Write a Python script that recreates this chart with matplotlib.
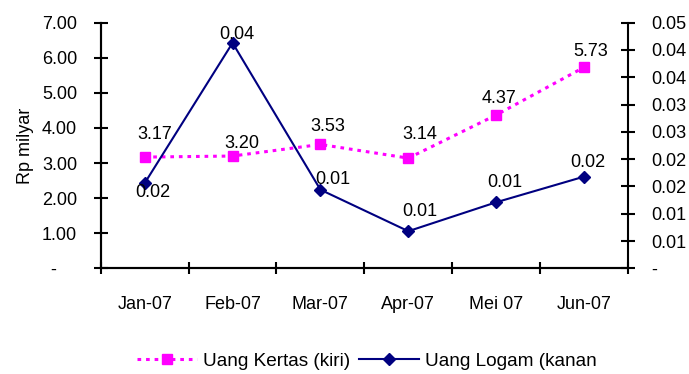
import numpy as np
import matplotlib.pyplot as plt
from matplotlib.ticker import FixedLocator, FixedFormatter

plt.rcParams['font.family'] = ['Liberation Sans', 'DejaVu Sans']

# Data uang kertas & logam, Jan-Jun 2007
bulan = ['Jan-07', 'Feb-07', 'Mar-07', 'Apr-07', 'Mei 07', 'Jun-07']
uang_kertas = [3.17, 3.20, 3.53, 3.14, 4.37, 5.73]       # Rp milyar (kiri)
uang_logam = [0.0156, 0.0413, 0.0144, 0.0068, 0.0121, 0.0168]  # kanan

kiri_ticks = [0, 1, 2, 3, 4, 5, 6, 7]
kiri_labels = ['-    ', '1.00', '2.00', '3.00', '4.00', '5.00', '6.00', '7.00']
kanan_ticks = [0, 0.005, 0.01, 0.015, 0.02, 0.025, 0.03, 0.035, 0.04, 0.045]
kanan_labels = ['-', '0.01', '0.01', '0.02', '0.02', '0.03', '0.03', '0.04', '0.04', '0.05']

# geser label data (dalam point)
off_kertas = [(7, 16), (7, 9), (5, 13), (8, 17), (2, 12), (5, 11)]
off_logam = [(6, -7), (3, 6), (9, 7), (8, 14), (6, 14), (3, 10)]

fs = 13
fig = plt.figure(figsize=(6.89, 3.74), dpi=100)
ax = fig.add_axes([0.1462, 0.2826, 0.9115 - 0.1462, 0.9393 - 0.2826])
ax2 = ax.twinx()

x = np.arange(len(bulan))
l1, = ax.plot(x, uang_kertas, color='#FF00FF', lw=2.2, ls=(0, (1.2, 1.6)),
              marker='s', ms=7.5, mec='#FF00FF', label='Uang Kertas (kiri)')
l2, = ax2.plot(x, uang_logam, color='#000080', lw=1.5, marker='D', ms=6.5,
               label='Uang Logam (kanan')

for i, v in enumerate(uang_kertas):
    ax.annotate('%.2f' % v, (x[i], v), xytext=off_kertas[i], textcoords='offset points',
                ha='center', va='center', fontsize=fs)
for i, v in enumerate(uang_logam):
    ax2.annotate('%.2f' % v, (x[i], v), xytext=off_logam[i], textcoords='offset points',
                 ha='center', va='center', fontsize=fs)

ax.set_xlim(-0.5, len(bulan) - 0.5)
ax.set_ylim(0, 7)
ax2.set_ylim(0, 0.045)

ax.yaxis.set_major_locator(FixedLocator(kiri_ticks))
ax.yaxis.set_major_formatter(FixedFormatter(kiri_labels))
ax2.yaxis.set_major_locator(FixedLocator(kanan_ticks))
ax2.yaxis.set_major_formatter(FixedFormatter(kanan_labels))

ax.set_xticks(np.arange(-0.5, len(bulan), 1.0))
ax.set_xticklabels([])
ax.set_xticks(x, minor=True)
ax.set_xticklabels(bulan, minor=True)

for a in (ax, ax2):
    a.spines['top'].set_visible(False)
    for s in a.spines.values():
        s.set_linewidth(1.5)
ax.spines['right'].set_visible(False)

ax.tick_params(axis='y', direction='inout', length=10, width=1.5, pad=12, labelsize=fs)
ax2.tick_params(axis='y', direction='inout', length=10, width=1.5, pad=12, labelsize=fs)
ax.tick_params(axis='x', which='major', direction='inout', length=9, width=1.5)
ax.tick_params(axis='x', which='minor', length=0, pad=20, labelsize=fs)

ax.set_ylabel('Rp milyar', fontsize=fs, labelpad=6)

fig.legend(handles=[l1, l2], loc='center left', bbox_to_anchor=(0.1984, 0.035),
           ncol=2, frameon=False, fontsize=13.7, handlelength=3.15, handletextpad=0.35,
           columnspacing=0.44, borderpad=0, borderaxespad=0)

fig.savefig('out.png', dpi=100)
